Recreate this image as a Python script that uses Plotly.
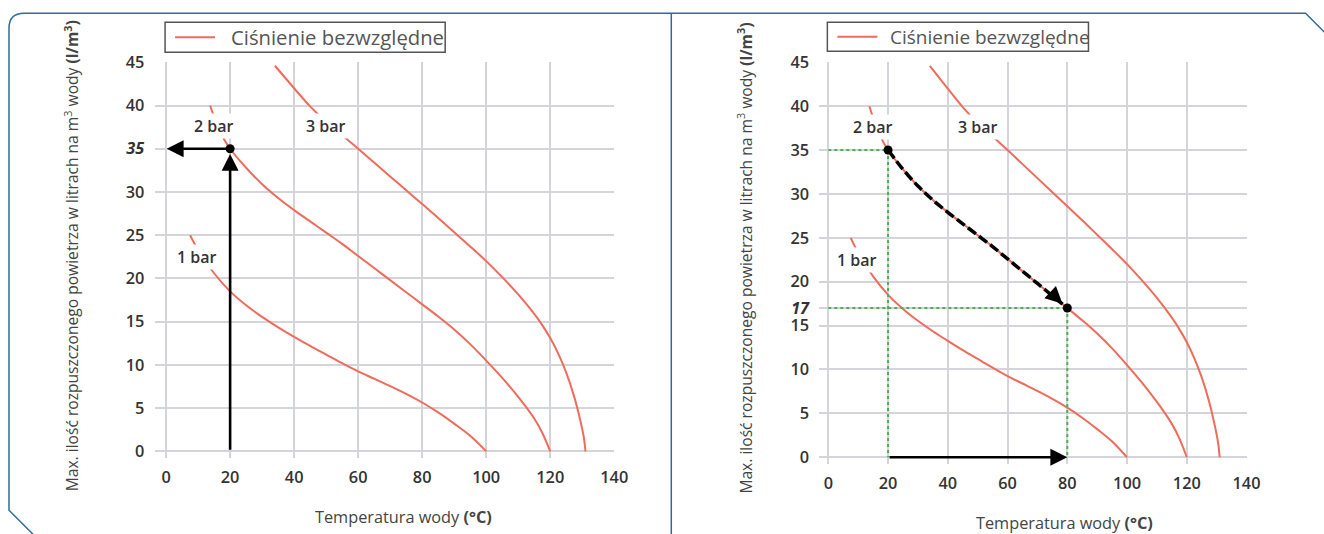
import plotly.graph_objects as go

W, H = 1324, 534

# ---------------- data ----------------
x_ticks = [0, 20, 40, 60, 80, 100, 120, 140]
y_ticks = [0, 5, 10, 15, 20, 25, 30, 35, 40, 45]

bar1_T = [7.5, 10, 15, 20, 25, 30, 35, 40, 45, 50, 55, 60, 65, 70, 75, 80, 85, 90, 95, 100]
bar1_V = [25.0, 23.3, 20.6, 18.5, 16.9, 15.55, 14.35, 13.25, 12.2, 11.2, 10.2, 9.25, 8.4,
          7.55, 6.65, 5.65, 4.5, 3.2, 1.8, 0]

bar2_T = [13.75, 15, 17.5, 20, 25, 30, 35, 40, 45, 50, 55, 60, 65, 70, 75, 80, 85, 90,
          95, 100, 105, 110, 115, 117.5, 120]
bar2_V = [40.0, 38.7, 36.5, 35.0, 32.8, 30.9, 29.3, 27.9, 26.6, 25.3, 24.0, 22.6, 21.2,
          19.8, 18.4, 17.0, 15.6, 14.1, 12.4, 10.5, 8.5, 6.3, 3.8, 2.15, 0]

bar3_T = [34, 40, 45, 50, 55, 60, 65, 70, 75, 80, 85, 90, 95, 100, 105, 110, 115, 117.5,
          120, 122.5, 125, 127.5, 129.5, 130.5, 131]
bar3_V = [44.6, 42.0, 39.9, 38.1, 36.55, 35.0, 33.4, 31.8, 30.2, 28.6, 27.0, 25.35, 23.7,
          22.0, 20.15, 18.15, 15.9, 14.6, 13.1, 11.3, 9.1, 6.3, 3.4, 1.6, 0]

curve_labels = ["1 bar", "2 bar", "3 bar"]
label_T = [9.7, 15.1, 50.0]
label_V = [22.5, 37.6, 37.6]

# example 1 (left): 20 °C -> 35 l/m3
ex1_T, ex1_V = 20, 35
# example 2 (right): 20 °C / 35 -> 80 °C / 17
ex2_T = [20, 80]
ex2_V = [35, 17]

legend_name = "Ciśnienie bezwzględne"
y_title = "Max. ilość rozpuszczonego powietrza w litrach na m<sup>3</sup> wody <b>(l/m<sup>3</sup>)</b>"
x_title = "Temperatura wody <b>(°C)</b>"

# ---------------- styles ----------------
RED = "#ef6b5b"
GRID = "#d4d5db"
TXT = "#333333"
BLUE = "#2f6aa0"
GREEN = "#4caf50"
FONT = "Open Sans"

# screen -> layout pixel correction (measured from the rendered output)
SX, SY, OY = 0.989, 0.972, 10.7


def lx(sx):
    return sx / SX


def ly(sy):
    return (sy - OY) / SY


def pxx(sx):
    return lx(sx) / W


def pxy(sy):
    return 1 - ly(sy) / H


fig = go.Figure()

curves = [(bar1_T, bar1_V), (bar2_T, bar2_V), (bar3_T, bar3_V)]
for xa, ya in [("x", "y"), ("x2", "y2")]:
    for tx, vy in curves:
        fig.add_trace(go.Scatter(
            x=tx, y=vy, mode="lines", xaxis=xa, yaxis=ya,
            line=dict(color=RED, width=2, shape="spline", smoothing=1.0),
            name=legend_name, showlegend=False, hoverinfo="skip"))

# right chart: green dotted guide lines
gx = [0, ex2_T[0], None, ex2_T[0], ex2_T[0], None, 0, ex2_T[1], None, ex2_T[1], ex2_T[1]]
gy = [ex2_V[0], ex2_V[0], None, ex2_V[0], 0, None, ex2_V[1], ex2_V[1], None, ex2_V[1], 0]
fig.add_trace(go.Scatter(x=gx, y=gy, mode="lines", xaxis="x2", yaxis="y2",
                         line=dict(color=GREEN, width=2, dash="dot"),
                         showlegend=False, hoverinfo="skip"))

# right chart: dashed path along 2 bar curve
segT = [t for t in bar2_T if ex2_T[0] <= t <= ex2_T[1]]
segV = [v for t, v in zip(bar2_T, bar2_V) if ex2_T[0] <= t <= ex2_T[1]]
fig.add_trace(go.Scatter(x=segT, y=segV, mode="lines", xaxis="x2", yaxis="y2",
                         line=dict(color="black", width=3.5, dash="10px,4px",
                                   shape="spline", smoothing=1.0),
                         showlegend=False, hoverinfo="skip"))

# dots
fig.add_trace(go.Scatter(x=[ex1_T], y=[ex1_V], mode="markers", xaxis="x", yaxis="y",
                         marker=dict(color="black", size=9), showlegend=False, hoverinfo="skip"))
fig.add_trace(go.Scatter(x=ex2_T, y=ex2_V, mode="markers", xaxis="x2", yaxis="y2",
                         marker=dict(color="black", size=9), showlegend=False, hoverinfo="skip"))

ann = []
# curve labels
for xr, yr in [("x", "y"), ("x2", "y2")]:
    for t, tx, vy in zip(curve_labels, label_T, label_V):
        ann.append(dict(x=tx, y=vy, xref=xr, yref=yr, text=t, showarrow=False,
                        bgcolor="white", borderpad=1,
                        font=dict(family=FONT, size=16, color=TXT, weight=600)))

arrow = dict(showarrow=True, arrowhead=2, arrowsize=1.3, arrowwidth=2.6,
             arrowcolor="black", text="")
# left arrows
ann.append(dict(arrow, x=ex1_T, y=ex1_V - 0.6, ax=ex1_T, ay=0, xref="x", yref="y",
                axref="x", ayref="y"))
ann.append(dict(arrow, x=0.2, y=ex1_V, ax=ex1_T, ay=ex1_V, xref="x", yref="y",
                axref="x", ayref="y"))
# right arrows
ann.append(dict(arrow, x=ex2_T[1], y=0, ax=ex2_T[0], ay=0, xref="x2", yref="y2",
                axref="x2", ayref="y2"))
ann.append(dict(arrow, x=ex2_T[1] - 1.6, y=ex2_V[1] + 0.5, ax=ex2_T[1] - 6, ay=ex2_V[1] + 1.9,
                xref="x2", yref="y2", axref="x2", ayref="y2"))

# axis titles
for xc, yc in [(72, 256), (745, 258)]:
    ann.append(dict(x=pxx(xc), y=pxy(yc), xref="paper", yref="paper", text=y_title,
                    textangle=-90, showarrow=False, xanchor="center", yanchor="middle",
                    font=dict(family=FONT, size=15.6, color="#444")))
for xc, yc in [(403, 517), (1064, 523)]:
    ann.append(dict(x=pxx(xc), y=pxy(yc), xref="paper", yref="paper", text=x_title,
                    showarrow=False, xanchor="center", yanchor="middle",
                    font=dict(family=FONT, size=16.3, color="#444")))


# frame
def pt(sx, sy):
    return f"{pxx(sx):.5f},{pxy(sy):.5f}"


frame_path = ("M " + pt(33, 534) + " L " + pt(9, 510) + " L " + pt(9, 28) +
              " Q " + pt(9, 13) + " " + pt(24, 13) + " L " + pt(1305, 13) +
              " L " + pt(1324, 32))
shapes = [
    dict(type="path", xref="paper", yref="paper", path=frame_path,
         line=dict(color=BLUE, width=1.5)),
    dict(type="line", xref="paper", yref="paper", x0=pxx(671), x1=pxx(671),
         y0=pxy(13), y1=pxy(534), line=dict(color=BLUE, width=1.5)),
]

# legends (box + line sample + text), one per panel
for (bx0, by0, bx1, by1, lx0, lx1, tx0, fs) in [(165, 22, 445, 52, 175, 215, 229, 20.3),
                                                 (827, 22, 1088, 51, 837, 877, 888, 19.0)]:
    shapes.append(dict(type="rect", xref="paper", yref="paper",
                       x0=pxx(bx0), x1=pxx(bx1), y0=pxy(by1), y1=pxy(by0),
                       line=dict(color="#555", width=1.5), fillcolor="white"))
    ym = (by0 + by1) / 2
    shapes.append(dict(type="line", xref="paper", yref="paper",
                       x0=pxx(lx0), x1=pxx(lx1), y0=pxy(ym), y1=pxy(ym),
                       line=dict(color=RED, width=2)))
    ann.append(dict(x=pxx(tx0), y=pxy(ym), xref="paper", yref="paper", text=legend_name,
                    showarrow=False, xanchor="left", yanchor="middle",
                    font=dict(family=FONT, size=fs, color="#555")))

y1_text = [f"<b><i>{v}</i></b>" if v == ex1_V else str(v) for v in y_ticks]
y2_vals = sorted(y_ticks + [ex2_V[1]])
y2_text = [f"<b><i>{v}</i></b>" if v == ex2_V[1] else str(v) for v in y2_vals]

ax_common = dict(showgrid=True, gridcolor=GRID, gridwidth=2, zeroline=False,
                 showline=False, ticks="outside", tickcolor="rgba(0,0,0,0)",
                 tickfont=dict(family=FONT, size=16.3, color=TXT, weight=600),
                 fixedrange=True)

fig.update_layout(
    width=W, height=H, margin=dict(l=0, r=0, t=0, b=0),
    paper_bgcolor="white", plot_bgcolor="white", showlegend=False,
    xaxis=dict(ax_common, domain=[pxx(154.5), pxx(614)], range=[-3.6, 140],
               tickvals=x_ticks, ticklen=4, anchor="y"),
    yaxis=dict(ax_common, domain=[pxy(458), pxy(62)], range=[-0.8, 45],
               tickvals=y_ticks, ticktext=y1_text, ticklen=6, anchor="x"),
    xaxis2=dict(ax_common, domain=[pxx(819), pxx(1246)], range=[-3, 140],
                tickvals=x_ticks, ticklen=4, anchor="y2"),
    yaxis2=dict(ax_common, domain=[pxy(464), pxy(62)], range=[-0.8, 45],
                tickvals=y2_vals, ticktext=y2_text, ticklen=6, anchor="x2"),
    annotations=ann, shapes=shapes,
)

fig.write_html("out.html", config={"displayModeBar": False},
               post_script="document.body.style.margin='0px';"
                           "document.body.style.overflow='hidden';"
                           "var gd=document.getElementById('{plot_id}');"
                           "gd.style.position='absolute';gd.style.top='0px';"
                           "gd.style.left='0px';")
